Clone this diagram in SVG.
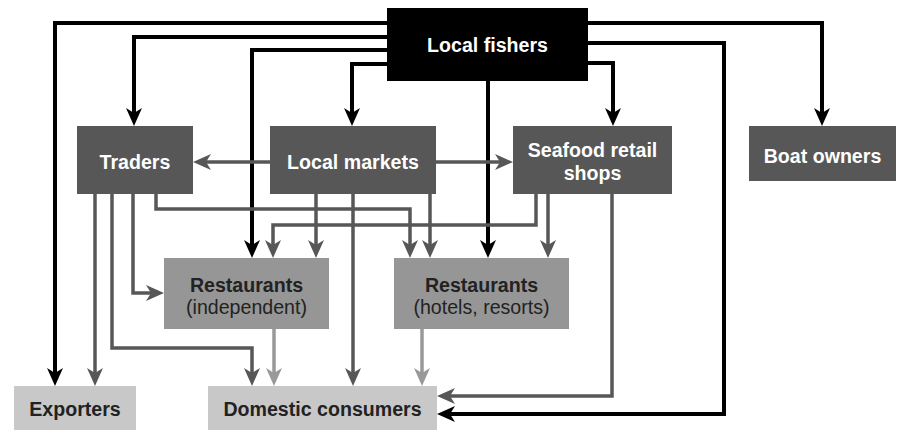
<svg xmlns="http://www.w3.org/2000/svg" width="898" height="431" viewBox="0 0 898 431">
<style>
  .lbl { font-family: "Liberation Sans", Arial, sans-serif; font-size: 19.6px; text-anchor: middle; }
  .b { font-weight: bold; }
  .w { fill: #ffffff; }
  .d { fill: #222222; }
  .blk { fill: none; stroke: #000000; stroke-width: 4; marker-end: url(#ab); }
  .gry { fill: none; stroke: #575757; stroke-width: 3.5; marker-end: url(#ag); }
  .lgt { fill: none; stroke: #999999; stroke-width: 3.5; marker-end: url(#al); }
</style>
<defs>
  <marker id="ab" markerUnits="userSpaceOnUse" markerWidth="20" markerHeight="20" refX="6" refY="0" orient="auto" overflow="visible">
    <path d="M18,0 L0,-8 L5,0 L0,8 Z" fill="#000000"/>
  </marker>
  <marker id="ag" markerUnits="userSpaceOnUse" markerWidth="20" markerHeight="20" refX="6" refY="0" orient="auto" overflow="visible">
    <path d="M18,0 L0,-8 L5,0 L0,8 Z" fill="#575757"/>
  </marker>
  <marker id="al" markerUnits="userSpaceOnUse" markerWidth="20" markerHeight="20" refX="6" refY="0" orient="auto" overflow="visible">
    <path d="M18,0 L0,-8 L5,0 L0,8 Z" fill="#999999"/>
  </marker>
</defs>
<rect width="898" height="431" fill="#ffffff"/>
<g id="connectors">
  <path class="blk" d="M387,23 H55 V374"/>
  <path class="blk" d="M387,37 H134 V114"/>
  <path class="blk" d="M387,50 H252 V246"/>
  <path class="blk" d="M387,64 H352 V114"/>
  <path class="blk" d="M588,23 H822 V114"/>
  <path class="blk" d="M588,43 H724 V414 H449"/>
  <path class="blk" d="M588,63 H613 V114"/>
  <path class="blk" d="M488,81 V246"/>
  <path class="gry" d="M270,162 H205"/>
  <path class="gry" d="M436,162 H501"/>
  <path class="gry" d="M95,194 V374"/>
  <path class="gry" d="M112,194 V348 H252 V374"/>
  <path class="gry" d="M133,194 V293 H152"/>
  <path class="gry" d="M156,194 V209 H410 V246"/>
  <path class="gry" d="M316,194 V246"/>
  <path class="gry" d="M353,194 V374"/>
  <path class="gry" d="M430,194 V246"/>
  <path class="gry" d="M536,194 V225 H273 V246"/>
  <path class="gry" d="M548,194 V246"/>
  <path class="gry" d="M612,194 V396 H449"/>
  <path class="lgt" d="M274,329 V374"/>
  <path class="lgt" d="M422,329 V374"/>
</g>
<g id="local-fishers">
  <rect x="387" y="8" width="201" height="73" fill="#000000"/>
  <text class="lbl b w" x="487.5" y="52">Local fishers</text>
</g>
<g id="traders">
  <rect x="77" y="126" width="116" height="68" fill="#575757"/>
  <text class="lbl b w" x="135" y="169">Traders</text>
</g>
<g id="local-markets">
  <rect x="270" y="126" width="166" height="68" fill="#575757"/>
  <text class="lbl b w" x="353" y="169">Local markets</text>
</g>
<g id="seafood-retail-shops">
  <rect x="513" y="126" width="159" height="68" fill="#575757"/>
  <text class="lbl b w" x="592.5" y="157">Seafood retail</text>
  <text class="lbl b w" x="592.5" y="180">shops</text>
</g>
<g id="boat-owners">
  <rect x="749" y="126" width="147" height="55" fill="#575757"/>
  <text class="lbl b w" x="822.5" y="163">Boat owners</text>
</g>
<g id="restaurants-independent">
  <rect x="164" y="258" width="165" height="71" fill="#969696"/>
  <text class="lbl b d" x="246.5" y="292">Restaurants</text>
  <text class="lbl d" x="246.5" y="314">(independent)</text>
</g>
<g id="restaurants-hotels">
  <rect x="394" y="258" width="175" height="71" fill="#969696"/>
  <text class="lbl b d" x="481.5" y="292">Restaurants</text>
  <text class="lbl d" x="481.5" y="314">(hotels, resorts)</text>
</g>
<g id="exporters">
  <rect x="14" y="386" width="122" height="44" fill="#c8c8c8"/>
  <text class="lbl b d" x="75" y="416">Exporters</text>
</g>
<g id="domestic-consumers">
  <rect x="208" y="386" width="229" height="44" fill="#c8c8c8"/>
  <text class="lbl b d" x="322.5" y="416">Domestic consumers</text>
</g>
</svg>
